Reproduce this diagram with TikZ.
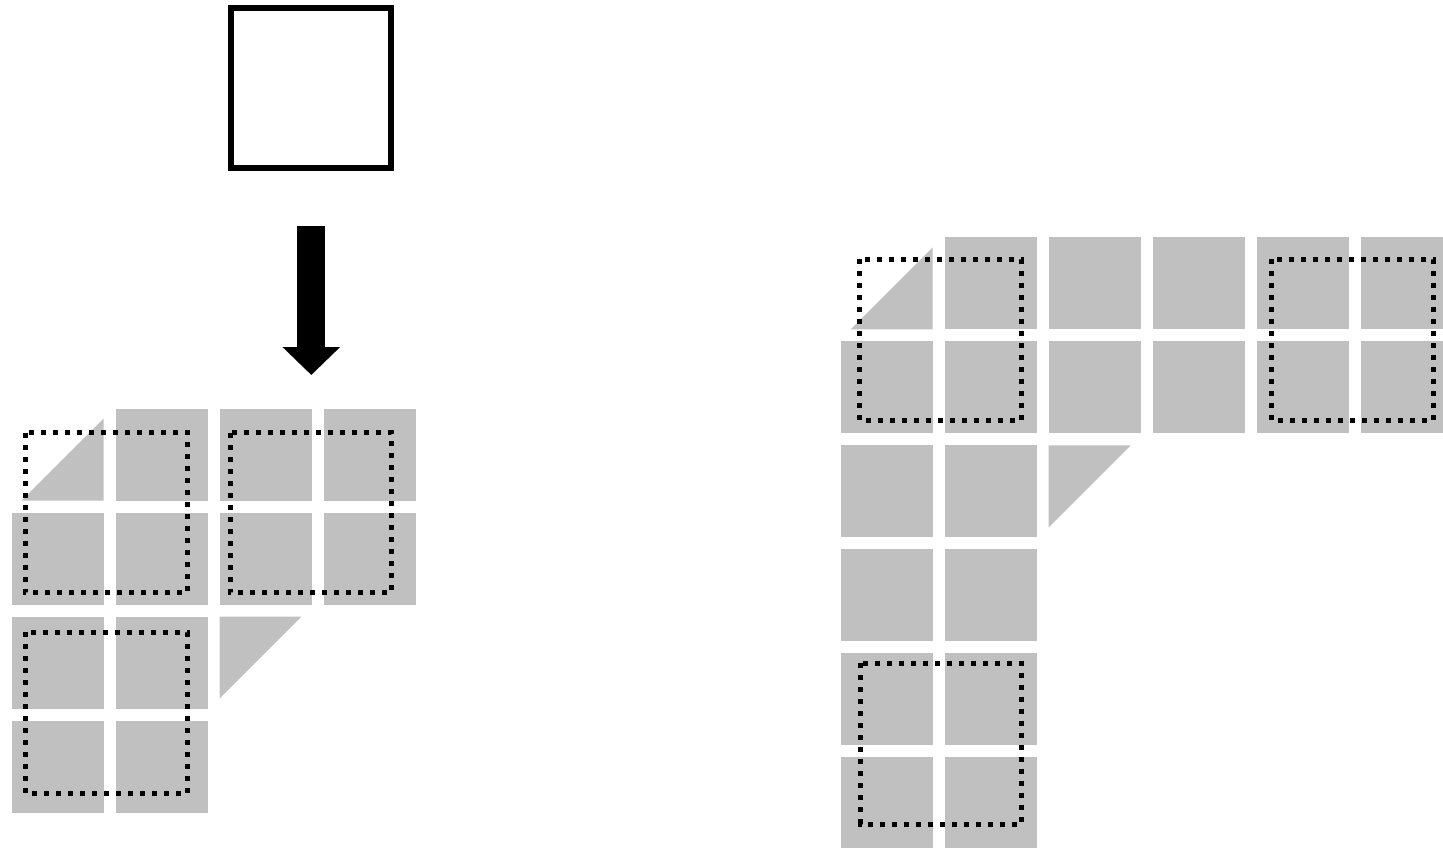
\documentclass[tikz,border=0pt]{standalone}
\usetikzlibrary{arrows.meta}
\definecolor{cellgray}{RGB}{192,192,192}

\begin{document}
\begin{tikzpicture}[x=0.5pt, y=-0.5pt,
    cell/.style={fill=cellgray},
    dotbox/.style={draw=black, line width=2.5pt, dash pattern=on 2.5pt off 3.5pt},
    blockarrow/.style={line width=14pt, -{Triangle[width=28pt, length=14pt]}},
  ]
  \clip (0,0) rectangle (1443,847);

  % single square on top, pushed down onto the left grid
  \node[draw, line width=2.85pt, minimum width=80pt, minimum height=80pt, inner sep=0pt] (sq) at (311.3,88.2) {};
  \coordinate (arrtop) at (311.3,226);
  \coordinate (arrtip) at (311.3,375);
  \draw[blockarrow] (arrtop) -- (arrtip);

  % left grid (pitch 104, cell 92), col/row pairs
  \begin{scope}[shift={(11.5,408.7)}]
    \foreach \c/\r in {1/0,2/0,3/0,0/1,1/1,2/1,3/1,0/2,1/2,0/3,1/3}
      \fill[cell] (104*\c,104*\r) rectangle ++(92,92);
    \fill[cell] (10,92) -- (92,10) -- (92,92) -- cycle;
    \fill[cell] (208,208) -- (290,208) -- (208,290) -- cycle;
  \end{scope}
  \draw[dotbox] (25,432.7) rectangle (187.3,592.7);
  \draw[dotbox] (230,432.7) rectangle (391.7,592.7);
  \draw[dotbox] (25,632.3) rectangle (187.3,793.3);

  % right grid, same pitch
  \begin{scope}[shift={(840.7,237.3)}]
    \foreach \c/\r in {1/0,2/0,3/0,4/0,5/0,0/1,1/1,2/1,3/1,4/1,5/1,0/2,1/2,0/3,1/3,0/4,1/4,0/5,1/5}
      \fill[cell] (104*\c,104*\r) rectangle ++(92,92);
    \fill[cell] (10,92) -- (92,10) -- (92,92) -- cycle;
    \fill[cell] (208,208) -- (290,208) -- (208,290) -- cycle;
  \end{scope}
  \draw[dotbox] (859.3,259.3) rectangle (1021.4,420.7);
  \draw[dotbox] (1271.4,259.3) rectangle (1433.5,420.7);
  \draw[dotbox] (860.7,663.3) rectangle (1021.7,824);
\end{tikzpicture}
\end{document}
